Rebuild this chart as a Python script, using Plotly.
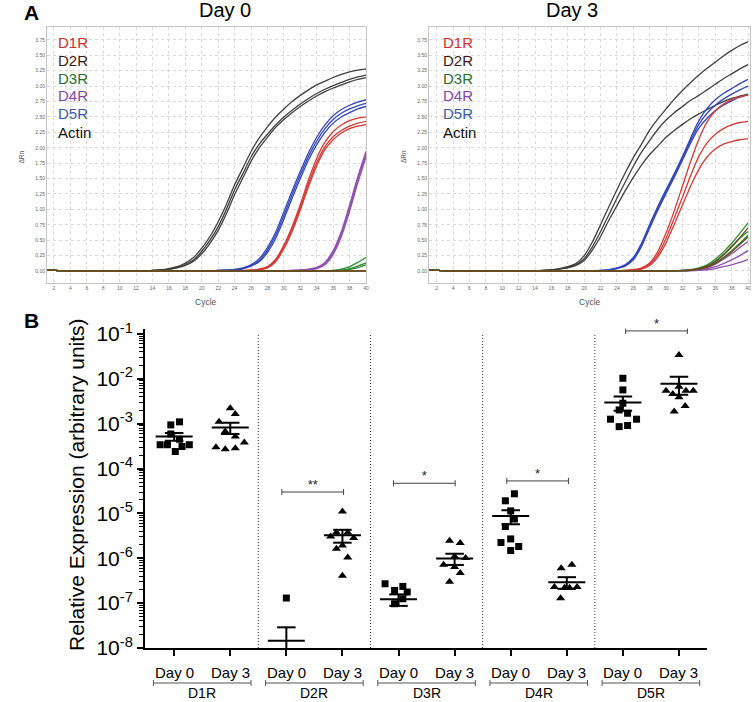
import numpy as np
import plotly.graph_objects as go

W, H = 753, 702
FONT = "Liberation Sans, Arial, Helvetica, sans-serif"

# ------------------------------------------------------------------
# Panel A : qPCR amplification curves (delta Rn per cycle)
# ------------------------------------------------------------------
CYCLES = list(range(1, 41))
BASE_START = [0.02, 0.012, 0.004]  # small offset seen in the first cycles


def on_baseline(start, values):
    """Curve sitting on the zero baseline until cycle `start`, then `values`."""
    lead = BASE_START + [0.0] * (start - 1 - len(BASE_START))
    out = lead + values
    assert len(out) == len(CYCLES)
    return out


DAY0_CURVES = {
    "Actin": [
        on_baseline(14, [0.01, 0.02, 0.04, 0.07, 0.13, 0.22, 0.37, 0.56, 0.80, 1.08, 1.40, 1.67, 1.94, 2.16,
                         2.34, 2.50, 2.63, 2.75, 2.85, 2.94, 3.02, 3.08, 3.14, 3.19, 3.23, 3.26, 3.28]),
        on_baseline(14, [0.008, 0.015, 0.03, 0.06, 0.11, 0.18, 0.32, 0.50, 0.72, 1.00, 1.32, 1.58, 1.85, 2.06,
                         2.22, 2.37, 2.50, 2.61, 2.71, 2.80, 2.88, 2.95, 3.01, 3.06, 3.11, 3.15, 3.18]),
        on_baseline(14, [0.006, 0.012, 0.025, 0.05, 0.09, 0.16, 0.28, 0.45, 0.66, 0.93, 1.24, 1.51, 1.78, 2.00,
                         2.17, 2.33, 2.46, 2.57, 2.67, 2.76, 2.84, 2.91, 2.97, 3.02, 3.07, 3.11, 3.14]),
    ],
    "D5R": [
        on_baseline(22, [0.01, 0.015, 0.025, 0.05, 0.10, 0.20, 0.38, 0.63, 0.96, 1.30, 1.62, 1.92, 2.17, 2.37,
                         2.52, 2.62, 2.69, 2.74, 2.78]),
        on_baseline(22, [0.008, 0.012, 0.02, 0.04, 0.09, 0.17, 0.34, 0.58, 0.90, 1.24, 1.56, 1.86, 2.11, 2.31,
                         2.46, 2.56, 2.63, 2.68, 2.72]),
        on_baseline(22, [0.006, 0.01, 0.015, 0.035, 0.08, 0.15, 0.30, 0.53, 0.84, 1.18, 1.50, 1.80, 2.05, 2.25,
                         2.40, 2.50, 2.57, 2.63, 2.67]),
    ],
    "D1R": [
        on_baseline(25, [0.005, 0.015, 0.03, 0.07, 0.19, 0.42, 0.72, 1.08, 1.48, 1.83, 2.09, 2.26, 2.37, 2.44,
                         2.48, 2.50]),
        on_baseline(25, [0.004, 0.012, 0.025, 0.06, 0.17, 0.39, 0.68, 1.03, 1.42, 1.76, 2.02, 2.18, 2.28, 2.35,
                         2.40, 2.43]),
        on_baseline(25, [0.003, 0.01, 0.02, 0.05, 0.15, 0.36, 0.64, 0.99, 1.37, 1.71, 1.97, 2.13, 2.24, 2.31,
                         2.35, 2.38]),
    ],
    "D4R": [
        on_baseline(30, [0.005, 0.01, 0.015, 0.03, 0.06, 0.14, 0.33, 0.64, 1.07, 1.53, 1.94]),
        on_baseline(30, [0.004, 0.008, 0.012, 0.022, 0.05, 0.12, 0.30, 0.60, 1.02, 1.48, 1.90]),
        on_baseline(30, [0.003, 0.006, 0.01, 0.016, 0.04, 0.10, 0.27, 0.56, 0.97, 1.43, 1.85]),
    ],
    "D3R": [
        on_baseline(35, [0.005, 0.01, 0.03, 0.07, 0.14, 0.22]),
        on_baseline(35, [0.003, 0.006, 0.015, 0.04, 0.08, 0.13]),
        on_baseline(35, [0.002, 0.004, 0.01, 0.025, 0.055, 0.10]),
    ],
    "D2R": [
        on_baseline(41, []),
        on_baseline(41, []),
    ],
}

DAY3_CURVES = {
    "Actin": [
        on_baseline(14, [0.005, 0.01, 0.02, 0.04, 0.07, 0.12, 0.25, 0.47, 0.75, 1.04, 1.32, 1.59, 1.84, 2.06,
                         2.29, 2.47, 2.63, 2.79, 2.93, 3.06, 3.18, 3.29, 3.39, 3.49, 3.58, 3.66, 3.72]),
        on_baseline(14, [0.005, 0.01, 0.018, 0.035, 0.06, 0.10, 0.20, 0.39, 0.64, 0.91, 1.18, 1.44, 1.70, 1.93,
                         2.12, 2.30, 2.45, 2.57, 2.67, 2.77, 2.85, 2.94, 3.03, 3.12, 3.20, 3.28, 3.35]),
        on_baseline(14, [0.004, 0.008, 0.015, 0.03, 0.05, 0.09, 0.17, 0.34, 0.56, 0.82, 1.06, 1.30, 1.52, 1.72,
                         1.89, 2.03, 2.17, 2.28, 2.38, 2.47, 2.55, 2.62, 2.69, 2.75, 2.80, 2.84, 2.87]),
    ],
    "D5R": [
        on_baseline(21, [0.005, 0.01, 0.02, 0.05, 0.10, 0.22, 0.45, 0.76, 1.05, 1.32, 1.58, 1.86, 2.16, 2.44,
                         2.64, 2.78, 2.88, 2.96, 3.04, 3.11]),
        on_baseline(21, [0.004, 0.008, 0.018, 0.045, 0.09, 0.20, 0.42, 0.73, 1.02, 1.29, 1.55, 1.83, 2.12, 2.38,
                         2.56, 2.69, 2.79, 2.87, 2.94, 3.00]),
        on_baseline(21, [0.003, 0.007, 0.015, 0.04, 0.08, 0.18, 0.40, 0.70, 0.99, 1.26, 1.52, 1.80, 2.08, 2.32,
                         2.48, 2.60, 2.69, 2.76, 2.82, 2.86]),
    ],
    "D1R": [
        on_baseline(24, [0.005, 0.01, 0.02, 0.05, 0.13, 0.32, 0.62, 0.98, 1.38, 1.78, 2.14, 2.42, 2.60, 2.71,
                         2.78, 2.83, 2.86]),
        on_baseline(24, [0.004, 0.008, 0.015, 0.04, 0.11, 0.27, 0.53, 0.86, 1.20, 1.55, 1.86, 2.08, 2.22, 2.31,
                         2.37, 2.41, 2.43]),
        on_baseline(24, [0.003, 0.006, 0.012, 0.03, 0.09, 0.23, 0.46, 0.76, 1.07, 1.38, 1.65, 1.85, 1.98, 2.06,
                         2.10, 2.13, 2.15]),
    ],
    "D2R": [
        on_baseline(31, [0.004, 0.008, 0.016, 0.04, 0.08, 0.15, 0.26, 0.39, 0.54, 0.70]),
        on_baseline(31, [0.003, 0.006, 0.012, 0.03, 0.06, 0.12, 0.21, 0.31, 0.43, 0.55]),
    ],
    "D3R": [
        on_baseline(31, [0.005, 0.01, 0.02, 0.05, 0.10, 0.19, 0.31, 0.45, 0.61, 0.78]),
        on_baseline(31, [0.004, 0.008, 0.015, 0.04, 0.08, 0.16, 0.27, 0.40, 0.53, 0.64]),
        on_baseline(31, [0.003, 0.006, 0.012, 0.03, 0.065, 0.13, 0.22, 0.33, 0.45, 0.58]),
    ],
    "D4R": [
        on_baseline(31, [0.003, 0.006, 0.012, 0.03, 0.06, 0.11, 0.19, 0.28, 0.38, 0.48]),
        on_baseline(31, [0.002, 0.004, 0.008, 0.02, 0.04, 0.07, 0.12, 0.18, 0.25, 0.33]),
        on_baseline(31, [0.001, 0.002, 0.005, 0.01, 0.02, 0.04, 0.07, 0.10, 0.14, 0.19]),
    ],
}

LEGEND_LABELS = ["D1R", "D2R", "D3R", "D4R", "D5R", "Actin"]
CURVE_COLORS = {"D1R": "#d43b35", "D2R": "#6b4a1e", "D3R": "#2f8a33", "D4R": "#8e4fae",
                "D5R": "#3346b8", "Actin": "#404040"}
LABEL_COLORS = {"D1R": "#cc2f2c", "D2R": "#3f1a12", "D3R": "#2e6e2e", "D4R": "#8a44a6",
                "D5R": "#3b5aa3", "Actin": "#111111"}
DRAW_ORDER = ["Actin", "D5R", "D1R", "D4R", "D3R", "D2R"]

# ------------------------------------------------------------------
# Panel B : relative expression (mean +/- SEM), log scale
# ------------------------------------------------------------------
RECEPTORS = ["D1R", "D2R", "D3R", "D4R", "D5R"]
DAYS = ["Day 0", "Day 3"]

D1R_DAY0 = [9.4e-4, 1.10e-3, 5.9e-4, 4.5e-4, 3.4e-4, 3.4e-4, 2.4e-4, 3.1e-4, 3.4e-4]
D1R_DAY3 = [2.2e-3, 1.65e-3, 1.11e-3, 6.7e-4, 5.2e-4, 3.0e-4, 2.7e-4, 2.85e-4, 3.8e-4]
D2R_DAY0 = [1.3e-7, 0, 0, 0, 0, 0, 0, 0, 0]          # zeros = not detected
D2R_DAY3 = [1.1e-5, 3.76e-6, 3.76e-6, 3.06e-6, 2.82e-6, 1.93e-6, 1.63e-6, 1.04e-6, 4.1e-7]
D3R_DAY0 = [2.7e-7, 1.92e-7, 2.36e-7, 1.77e-7, 1.25e-7, 9.7e-8, 0, 0, 0]
D3R_DAY3 = [2.45e-6, 2.18e-6, 1.10e-6, 1.01e-6, 7.2e-7, 6.4e-7, 4.7e-7, 3.0e-7, 0]
D4R_DAY0 = [2.74e-5, 1.91e-5, 1.14e-5, 7.5e-6, 5.1e-6, 2.7e-6, 2.25e-6, 1.83e-6, 1.49e-6]
D4R_DAY3 = [6.0e-7, 7.2e-7, 2.3e-7, 2.2e-7, 2.2e-7, 2.3e-7, 1.29e-7, 0]
D5R_DAY0 = [1.03e-2, 5.66e-3, 2.86e-3, 2.03e-3, 1.71e-3, 1.26e-3, 1.26e-3, 8.6e-4, 9.1e-4]
D5R_DAY3 = [3.4e-2, 5.4e-3, 4.6e-3, 6.7e-3, 5.4e-3, 5.4e-3, 3.9e-3, 2.49e-3, 1.86e-3]

GROUP_VALUES = [D1R_DAY0, D1R_DAY3, D2R_DAY0, D2R_DAY3, D3R_DAY0, D3R_DAY3,
                D4R_DAY0, D4R_DAY3, D5R_DAY0, D5R_DAY3]

# horizontal scatter of the dots (category units), as laid out in the figure
GROUP_JITTER = [
    [-0.06, 0.095, -0.06, 0.095, -0.25, -0.12, 0.02, 0.14, 0.27],
    [0.0, 0.09, -0.2, -0.09, 0.09, -0.255, -0.09, 0.09, 0.25],
    [0.0] * 9,
    [0.0, -0.107, 0.095, -0.21, 0.2, 0.0, -0.107, 0.095, 0.0],
    [-0.24, -0.07, 0.077, 0.155, 0.077, -0.07, 0.0, 0.0, 0.0],
    [-0.09, 0.1, 0.0, 0.196, -0.196, 0.0, 0.1, -0.09, 0.0],
    [0.066, -0.095, 0.0, 0.066, -0.095, 0.0, -0.173, 0.143, 0.0],
    [-0.1, 0.09, -0.22, -0.04, 0.05, 0.184, -0.11, 0.0],
    [0.0, 0.0, 0.0, -0.066, 0.084, -0.22, 0.244, -0.066, 0.084],
    [0.0, -0.23, -0.11, 0.0, 0.125, 0.255, 0.0, 0.11, -0.085],
]

# significance brackets (category positions, height, label)
SIG_LEFT = [1.92, 3.91, 5.93, 8.05]
SIG_RIGHT = [3.02, 5.01, 7.03, 9.15]
SIG_Y = [3.0e-5, 4.7e-5, 5.3e-5, 0.117]
SIG_TEXT = ["**", "*", "*", "*"]

# ------------------------------------------------------------------
# Layout geometry (pixels -> paper)
# ------------------------------------------------------------------
def px_x(p):
    return p / W


def px_y(p):
    return 1 - p / H


A_YDOM = [px_y(283), px_y(27)]
A_XDOM_L = [px_x(47), px_x(366)]
A_XDOM_R = [px_x(429), px_x(750)]
B_XDOM = [px_x(145), px_x(707)]
B_YDOM = [px_y(648), px_y(328.6)]
STRIP_YDOM = [0, px_y(652)]

fig = go.Figure()

# ---- Panel A traces
for curves, xa, ya in [(DAY0_CURVES, "x", "y"), (DAY3_CURVES, "x2", "y2")]:
    for gene in DRAW_ORDER:
        for series in curves.get(gene, []):
            fig.add_trace(go.Scatter(
                x=CYCLES, y=series, mode="lines", xaxis=xa, yaxis=ya,
                line=dict(color=CURVE_COLORS[gene], width=1.3, shape="spline", smoothing=0.6),
                hoverinfo="skip", showlegend=False))

# ---- Panel B traces
positions = list(range(len(GROUP_VALUES)))

# dotted separators between receptors
sep_x, sep_y = [], []
for k in range(1, len(RECEPTORS)):
    s = 2 * k - 0.5
    sep_x += [s, s, None]
    sep_y += [1e-8, 1e-1, None]
fig.add_trace(go.Scatter(x=sep_x, y=sep_y, mode="lines", xaxis="x3", yaxis="y3",
                         line=dict(color="#333333", width=1, dash="1px,2px"),
                         hoverinfo="skip", showlegend=False))

# dots
for i, (vals, jit) in enumerate(zip(GROUP_VALUES, GROUP_JITTER)):
    xs = [i + j for v, j in zip(vals, jit) if v > 0]
    ys = [v for v in vals if v > 0]
    symbol = "square" if i % 2 == 0 else "triangle-up"
    fig.add_trace(go.Scatter(
        x=xs, y=ys, mode="markers", xaxis="x3", yaxis="y3",
        marker=dict(symbol=symbol, size=7 if i % 2 == 0 else 8, color="black", line=dict(width=0)),
        cliponaxis=False, hoverinfo="skip", showlegend=False))

# mean +/- SEM
mx, my = [], []
for i, vals in enumerate(GROUP_VALUES):
    arr = np.array(vals, dtype=float)
    mean = arr.mean()
    sem = arr.std(ddof=1) / np.sqrt(len(arr))
    lo = max(mean - sem, 1e-12)
    hi = mean + sem
    mx += [i - 0.33, i + 0.33, None, i, i, None, i - 0.165, i + 0.165, None, i - 0.165, i + 0.165, None]
    my += [mean, mean, None, lo, hi, None, hi, hi, None, lo, lo, None]
fig.add_trace(go.Scatter(x=mx, y=my, mode="lines", xaxis="x3", yaxis="y3",
                         line=dict(color="black", width=2), hoverinfo="skip", showlegend=False))

# significance brackets
bx, by = [], []
for l, r, yv in zip(SIG_LEFT, SIG_RIGHT, SIG_Y):
    bx += [l, r, None, l, l, None, r, r, None]
    by += [yv, yv, None, yv / 1.17, yv * 1.17, None, yv / 1.17, yv * 1.17, None]
fig.add_trace(go.Scatter(x=bx, y=by, mode="lines", xaxis="x3", yaxis="y3",
                         line=dict(color="#444444", width=1), hoverinfo="skip", showlegend=False))
fig.add_trace(go.Scatter(
    x=[(l + r) / 2 for l, r in zip(SIG_LEFT, SIG_RIGHT)], y=SIG_Y, text=SIG_TEXT,
    mode="text", textposition="top center", xaxis="x3", yaxis="y3",
    textfont=dict(family=FONT, size=13, color="#222222"),
    cliponaxis=False, hoverinfo="skip", showlegend=False))

# group brackets under the axis (label strip, pixel rows from top)
GROUP_SPAN = (-0.37, 1.37)
BRACKET_ROW = 683
gx, gy = [], []
for k in range(len(RECEPTORS)):
    l, r = 2 * k + GROUP_SPAN[0], 2 * k + GROUP_SPAN[1]
    gx += [l, r, None, l, l, None, r, r, None]
    gy += [BRACKET_ROW, BRACKET_ROW, None, BRACKET_ROW - 3, BRACKET_ROW + 3, None,
           BRACKET_ROW - 3, BRACKET_ROW + 3, None]
fig.add_trace(go.Scatter(x=gx, y=gy, mode="lines", xaxis="x3", yaxis="y4",
                         line=dict(color="#555555", width=1), hoverinfo="skip", showlegend=False))

# ------------------------------------------------------------------
# Axes
# ------------------------------------------------------------------
def qpcr_x(dom, anchor, rng):
    return dict(domain=dom, anchor=anchor, range=rng, tick0=2, dtick=2, automargin=False,
                showgrid=True, gridcolor="#dadada", griddash="dot", gridwidth=1,
                showline=True, mirror=True, linecolor="#c4c4c4", linewidth=1,
                ticks="", tickfont=dict(family=FONT, size=5, color="#666666"), zeroline=False)


def qpcr_y(anchor):
    return dict(domain=A_YDOM, anchor=anchor, range=[-0.195, 3.96], tick0=0, dtick=0.25,
                tickformat=".2f", showgrid=True, gridcolor="#dadada", griddash="dot", gridwidth=1,
                showline=True, mirror=True, linecolor="#c4c4c4", linewidth=1, automargin=False,
                ticks="", tickfont=dict(family=FONT, size=5, color="#666666"), zeroline=False)


major = [10.0 ** e for e in range(-8, 0)]
minor = [k * 10.0 ** e for e in range(-8, -1) for k in range(2, 10)]

fig.update_layout(
    template="none",
    width=W, height=H, autosize=False,
    margin=dict(l=0, r=0, t=0, b=0, pad=0, autoexpand=False),
    paper_bgcolor="white", plot_bgcolor="white",
    font=dict(family=FONT, color="black"),
    showlegend=False,
    xaxis=qpcr_x(A_XDOM_L, "y", [1.15, 40.0]),
    yaxis=qpcr_y("x"),
    xaxis2=qpcr_x(A_XDOM_R, "y2", [1.06, 40.24]),
    yaxis2=qpcr_y("x2"),
    xaxis3=dict(domain=B_XDOM, anchor="y3", range=[-0.52, 9.5], showline=True, linewidth=2,
                linecolor="black", ticks="outside", ticklen=6, tickwidth=2, tickcolor="black",
                tickvals=positions, showticklabels=False, showgrid=False, zeroline=False,
                automargin=False),
    yaxis3=dict(domain=B_YDOM, anchor="x3", type="log", range=[-8, -0.88], showline=True,
                linewidth=2, linecolor="black", ticks="outside", ticklen=6, tickwidth=2,
                tickcolor="black", tickvals=major, automargin=False,
                ticktext=["10<sup>%d</sup>" % e for e in range(-8, 0)],
                tickfont=dict(family=FONT, size=21, color="black"),
                minor=dict(tickvals=minor, ticks="outside", ticklen=4, tickwidth=1, tickcolor="black"),
                showgrid=False, zeroline=False),
    yaxis4=dict(domain=STRIP_YDOM, anchor="x3", range=[702, 652], visible=False, automargin=False),
)

# ------------------------------------------------------------------
# Text
# ------------------------------------------------------------------
ann = []


def add_text(text, x, y, size, color="black", bold=False, angle=0, xanchor="center",
             xref="paper", yref="paper"):
    ann.append(dict(text="<b>%s</b>" % text if bold else text, x=x, y=y, xref=xref, yref=yref,
                    showarrow=False, xanchor=xanchor, yanchor="middle", textangle=angle,
                    font=dict(family=FONT, size=size, color=color)))


add_text("A", px_x(31), px_y(12), 21, bold=True)
add_text("B", px_x(31), px_y(320), 21, bold=True)
add_text("Day 0", px_x(224.5), px_y(10), 20)
add_text("Day 3", px_x(572), px_y(10), 20)
for left_px in (56, 441):
    for lab, row in zip(LEGEND_LABELS, [42, 60, 78, 96, 114, 132]):
        add_text(lab, px_x(left_px), px_y(row), 15, color=LABEL_COLORS[lab], xanchor="left")
for cx in (20.5, 403):
    add_text("\u0394Rn", px_x(cx), px_y(157), 6.5, color="#555555", angle=-90)
for cx in (206, 590):
    add_text("Cycle", px_x(cx), px_y(302), 8.5, color="#555555")

add_text("Relative Expression (arbitrary units)", px_x(77), px_y(485), 21, angle=-90)
for i in positions:
    add_text(DAYS[i % 2], i, px_y(672), 15, xref="x3")
for k, rec in enumerate(RECEPTORS):
    add_text(rec, 2 * k + 0.5, px_y(693), 14, xref="x3")

fig.update_layout(annotations=ann)

PIN_PAGE = (
    "document.documentElement.style.margin='0';"
    "document.documentElement.style.padding='0';"
    "document.documentElement.style.overflow='hidden';"
    "document.body.style.margin='0';"
    "document.body.style.padding='0';"
    "document.body.style.overflow='hidden';"
    "var g=document.getElementById('{plot_id}');"
    "g.style.position='fixed';g.style.left='0px';g.style.top='0px';"
)
fig.write_html("out.html", config={"displayModeBar": False}, post_script=PIN_PAGE)
